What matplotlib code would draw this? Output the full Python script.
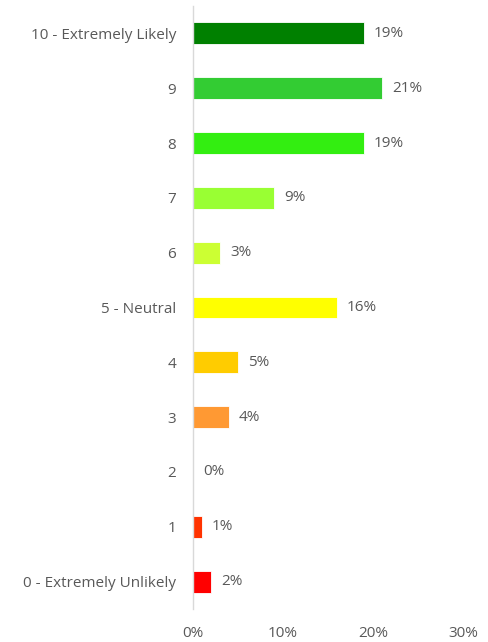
import numpy as np
import matplotlib
matplotlib.use("Agg")
from matplotlib import pyplot as plt

labels = ["0 - Extremely Unlikely", "1", "2", "3", "4", "5 - Neutral",
          "6", "7", "8", "9", "10 - Extremely Likely"]
values = [2, 1, 0, 4, 5, 16, 3, 9, 19, 21, 19]
colors = ["#FF0000", "#FF3300", "#FF6600", "#FF9933", "#FFCC00", "#FFFF00",
          "#CCFF33", "#99FF33", "#33EE11", "#33CC33", "#008000"]
ticks = [0, 10, 20, 30]

plt.rcParams['font.family'] = ['Open Sans', 'DejaVu Sans']
grey = "#595959"
fs = 11

fig = plt.figure(figsize=(4.89, 6.42), dpi=100)
ax = fig.add_axes([0.3947, 0.0514, 0.552, 0.9393])

y = np.arange(len(labels))
ax.barh(y, values, height=0.4, color=colors, edgecolor="white", linewidth=0.6)
for yi, v in zip(y, values):
    ax.text(v + 1.1, yi, "%d%%" % v, va="center", ha="left", fontsize=fs, color=grey)

ax.set_xlim(0, 30)
ax.set_ylim(-0.5, len(labels) - 0.5)
ax.set_yticks(y)
ax.set_yticklabels(labels, fontsize=fs, color=grey)
ax.set_xticks(ticks)
ax.set_xticklabels(["%d%%" % t for t in ticks], fontsize=fs, color=grey)
ax.tick_params(axis="both", length=0)
ax.tick_params(axis="y", pad=12)
ax.tick_params(axis="x", pad=12)
for s in ["top", "right", "bottom"]:
    ax.spines[s].set_visible(False)
ax.spines["left"].set_color("#D9D9D9")
ax.spines["left"].set_linewidth(1.0)

fig.savefig("out.png", dpi=100)
